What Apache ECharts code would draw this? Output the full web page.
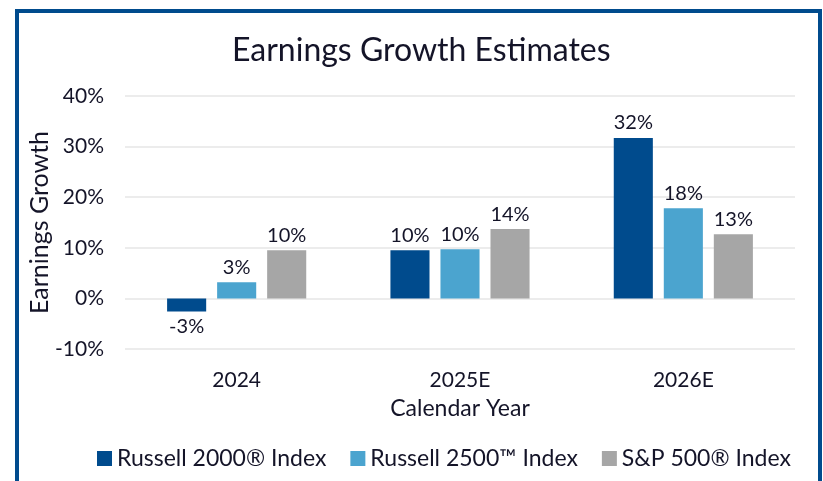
<!DOCTYPE html>
<html>
<head>
    <meta charset="utf-8" />
    <title>Earnings Growth Estimates</title>
    <script src="https://cdn.jsdelivr.net/npm/echarts@6/dist/echarts.min.js"></script>
    <style>
        * { margin: 0; padding: 0; box-sizing: border-box; }
        body { background: #fff; width: 823px; height: 481px; overflow: hidden; position: relative; }
        #frame {
            position: absolute; left: 15px; top: 9px; width: 807px; height: 520px;
            border: 4px solid #004b8d;
        }
        #chart { position: absolute; left: 0; top: 0; width: 823px; height: 481px; }
    </style>
</head>
<body>
    <div id="frame"></div>
    <div id="chart"></div>

    <script>
        // data
        const years = ['2024', '2025E', '2026E'];
        const russell2000 = [-2.6, 9.5, 31.7];
        const russell2500 = [3.2, 9.7, 17.8];
        const sp500 = [9.5, 13.7, 12.7];
        const seriesNames = ['Russell 2000® Index', 'Russell 2500™ Index', 'S&P 500® Index'];
        const colors = ['#004b8d', '#4ba4cf', '#a6a6a6'];

        const textColor = '#141428';
        const fontFamily = 'Lato, "Open Sans", sans-serif';

        const chart = echarts.init(document.getElementById('chart'));

        function makeSeries(name, values, color) {
            return {
                name: name,
                type: 'bar',
                barWidth: '17.5%',
                barGap: '28%',
                itemStyle: { color: color },
                label: {
                    show: true,
                    position: 'top',
                    distance: 5,
                    color: textColor,
                    fontSize: 20,
                    fontFamily: fontFamily,
                    formatter: p => Math.round(p.value) + '%'
                },
                data: values.map(v => v < 0
                    ? { value: v, label: { position: 'bottom' } }
                    : v)
            };
        }

        const option = {
            animation: false,
            title: {
                text: 'Earnings Growth Estimates',
                left: 227,
                top: 30,
                textStyle: { color: textColor, fontSize: 32, fontWeight: 'normal', fontFamily: fontFamily }
            },
            legend: {
                data: seriesNames,
                top: 442,
                left: 92,
                itemWidth: 15,
                itemHeight: 15,
                itemGap: 24,
                icon: 'rect',
                textStyle: { color: textColor, fontSize: 23, fontFamily: fontFamily }
            },
            grid: { left: 125, right: 28, top: 96, bottom: 132 },
            xAxis: {
                type: 'category',
                data: years,
                name: 'Calendar Year',
                nameLocation: 'middle',
                nameGap: 48,
                nameTextStyle: { color: textColor, fontSize: 23, fontFamily: fontFamily },
                axisLine: { show: false, onZero: false },
                axisTick: { show: false },
                axisLabel: { color: textColor, fontSize: 21, margin: 21, fontFamily: fontFamily }
            },
            yAxis: {
                type: 'value',
                min: -10,
                max: 40,
                interval: 10,
                name: 'Earnings Growth',
                nameLocation: 'middle',
                nameGap: 73,
                nameMoveOverlap: false,
                nameTextStyle: { color: textColor, fontSize: 25, fontFamily: fontFamily },
                axisLine: { show: false },
                axisTick: { show: false },
                axisLabel: { color: textColor, fontSize: 21, margin: 21, formatter: '{value}%', fontFamily: fontFamily },
                splitLine: { lineStyle: { color: '#ececec', width: 2 } }
            },
            series: [
                makeSeries(seriesNames[0], russell2000, colors[0]),
                makeSeries(seriesNames[1], russell2500, colors[1]),
                makeSeries(seriesNames[2], sp500, colors[2])
            ]
        };

        chart.setOption(option);
    </script>
</body>
</html>
